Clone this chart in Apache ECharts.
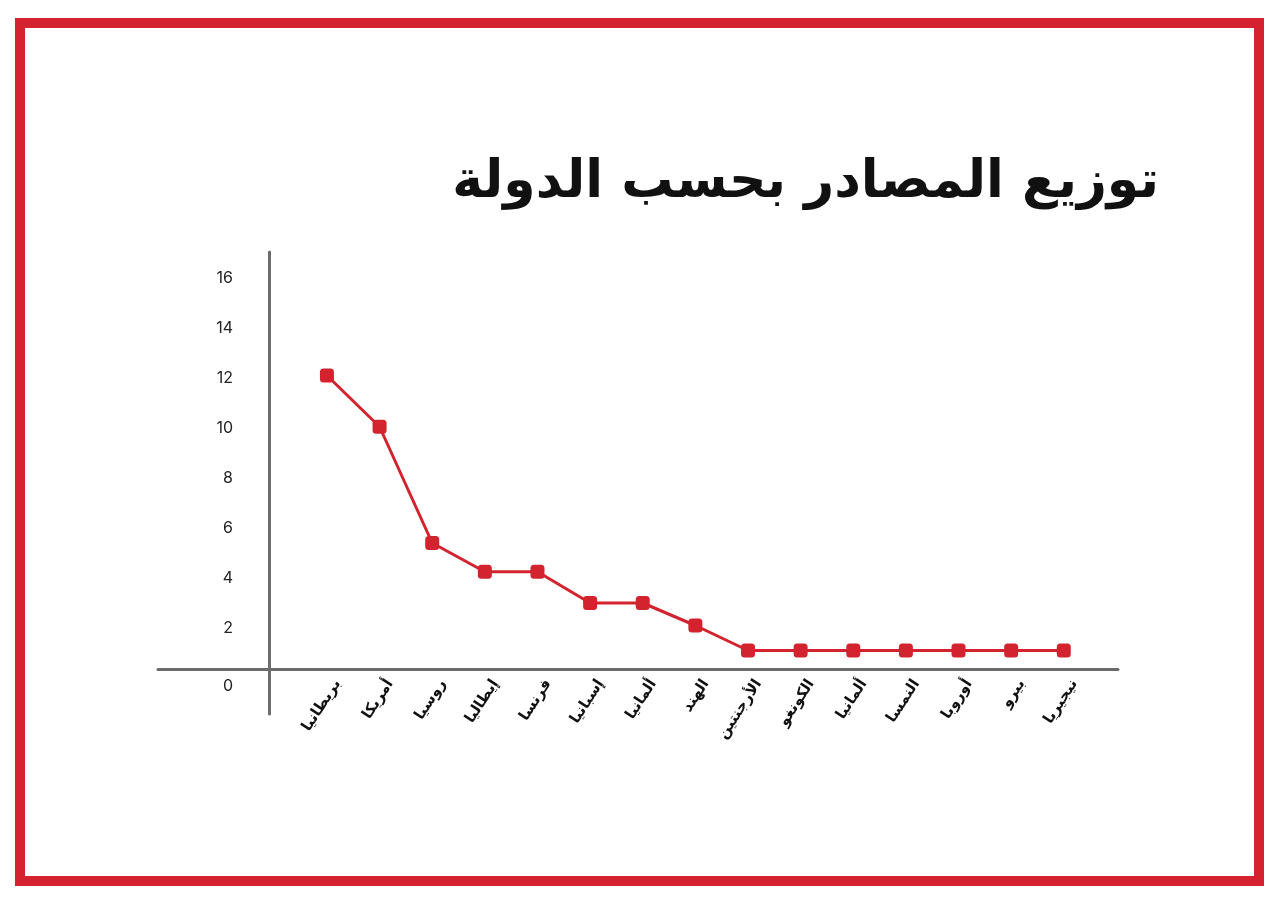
<!DOCTYPE html>
<html>
<head>
<meta charset="utf-8">
<script src="https://cdn.jsdelivr.net/npm/echarts@6/dist/echarts.min.js"></script>
<style>
html,body{margin:0;padding:0;background:#fff;}
#chart{width:1280px;height:904px;}
</style>
</head>
<body>
<div id="chart"></div>
<script>
const titleText = 'توزيع المصادر بحسب الدولة';
const categories = ['بريطانيا','أمريكا','روسيا','إيطاليا','فرنسا','إسبانيا','ألمانيا','الهند','الأرجنتين','الكونغو','ألمانيا','النمسا','أوروبا','بيرو','نيجيريا'];
const values = [12.1, 10.05, 5.4, 4.25, 4.25, 3.0, 3.0, 2.1, 1.1, 1.1, 1.1, 1.1, 1.1, 1.1, 1.1];
const yTicks = [0, 2, 4, 6, 8, 10, 12, 14, 16];

const RED = '#d3232f';
const AXIS = '#6b6b6b';
const chart = echarts.init(document.getElementById('chart'), null, {renderer:'canvas'});
const indices = categories.map((c, i) => i);
chart.setOption({
  backgroundColor: '#ffffff',
  animation: false,
  title: {
    text: titleText,
    right: 116,
    top: 152,
    textStyle: {fontFamily: 'DejaVu Sans', fontWeight: 'bold', fontSize: 52, color: '#111111'}
  },
  graphic: [{
    type: 'rect',
    shape: {x: 20, y: 23, width: 1239, height: 858},
    style: {fill: 'none', stroke: '#d42230', lineWidth: 10},
    silent: true
  }],
  grid: {left: 158, right: 162, top: 252, bottom: 190},
  xAxis: {
    type: 'value',
    min: -3.21,
    max: 15.03,
    offset: -45,
    axisLine: {show: true, onZero: false, lineStyle: {color: AXIS, width: 3}},
    axisTick: {show: false},
    splitLine: {show: false},
    axisLabel: {
      // labels sit slightly to the right of each point, as in the reference
      customValues: indices.map(i => i + 0.2),
      formatter: v => categories[Math.round(v)] || '',
      rotate: 57,
      margin: 12,
      fontFamily: 'DejaVu Sans',
      fontWeight: 'bold',
      fontSize: 15,
      color: '#111111'
    }
  },
  yAxis: {
    type: 'value',
    min: -1.44,
    max: 17.04,
    offset: -111,
    axisLine: {show: true, onZero: false, lineStyle: {color: AXIS, width: 3}},
    axisTick: {show: false},
    splitLine: {show: false},
    axisLabel: {
      customValues: yTicks,
      margin: 36,
      fontFamily: 'Inter',
      fontSize: 16,
      color: '#222222',
      formatter: v => v === 0 ? '{z|0}' : String(v),
      rich: {z: {fontFamily: 'Inter', fontSize: 16, color: '#222222', padding: [16, 0, 0, 0]}}
    }
  },
  series: [{
    type: 'line',
    data: values.map((v, i) => [indices[i], v]),
    symbol: 'roundRect',
    symbolSize: 14,
    lineStyle: {color: RED, width: 3},
    itemStyle: {color: RED},
    z: 5
  }]
});
</script>
</body>
</html>
